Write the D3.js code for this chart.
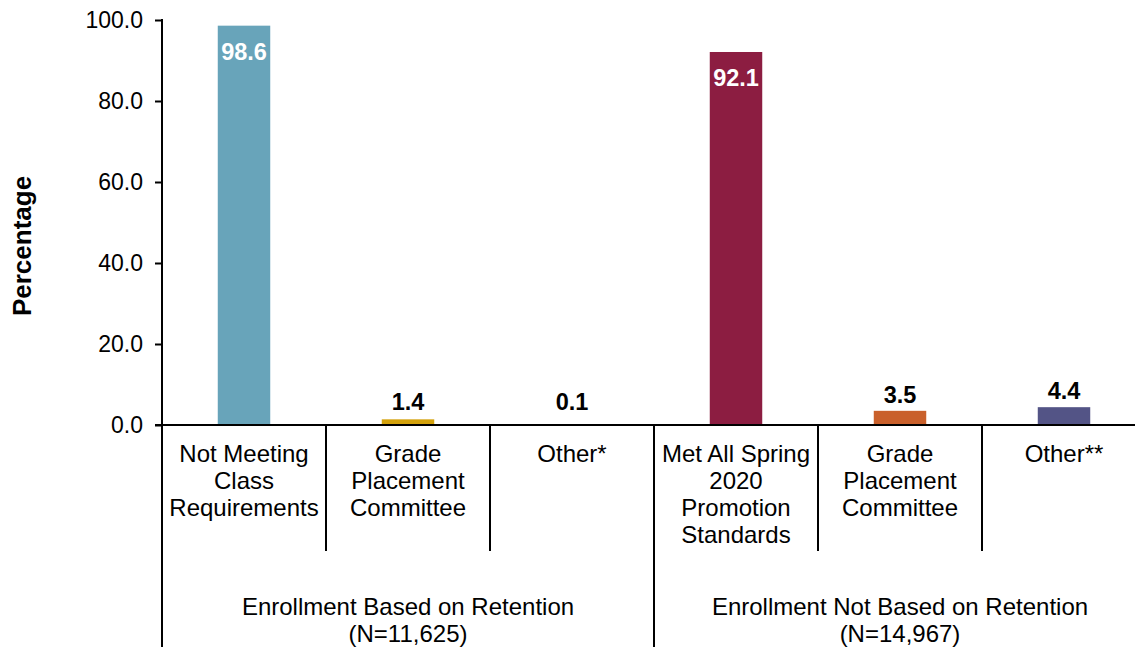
<!DOCTYPE html>
<html>
<head>
<meta charset="utf-8">
<script src="https://cdn.jsdelivr.net/npm/d3@7"></script>
<style>
  body { margin: 0; background: #fff; }
  text { font-family: Arial, "Liberation Sans", sans-serif; fill: #000; }
</style>
</head>
<body>
<svg width="1135" height="647"></svg>
<script>
// chart data
var categories = [
  ['Not Meeting', 'Class', 'Requirements'],
  ['Grade', 'Placement', 'Committee'],
  ['Other*'],
  ['Met All Spring', '2020', 'Promotion', 'Standards'],
  ['Grade', 'Placement', 'Committee'],
  ['Other**']
];
var values = [98.6, 1.4, 0.1, 92.1, 3.5, 4.4];
var barColors = ['#68a4ba', '#d4a20c', '#d4a20c', '#8c1d41', '#c9602b', '#535486'];
var groups = [
  {label: ['Enrollment Based on Retention', '(N=11,625)'], from: 0, to: 2},
  {label: ['Enrollment Not Based on Retention', '(N=14,967)'], from: 3, to: 5}
];
var yTicks = [0, 20, 40, 60, 80, 100];

let svg = d3.select('svg');
let idx = d3.range(values.length);

let xScale = d3.scaleBand().domain(idx).range([162, 1146]).padding(0);
let yScale = d3.scaleLinear().domain([0, 100]).range([425, 20]);
let bw = xScale.bandwidth();
let barW = bw * 0.32;

// bars
svg.selectAll('rect.bar')
  .data(values)
  .enter()
  .append('rect')
  .attr('class', 'bar')
  .attr('x', (d, i) => xScale(i) + (bw - barW) / 2)
  .attr('y', d => yScale(d))
  .attr('width', barW)
  .attr('height', d => yScale(0) - yScale(d))
  .attr('fill', (d, i) => barColors[i]);

// value labels: big ones inside in white, small ones above
svg.selectAll('text.val')
  .data(values)
  .enter()
  .append('text')
  .attr('class', 'val')
  .attr('x', (d, i) => xScale(i) + bw / 2)
  .attr('y', d => d > 50 ? yScale(d) + 34 : Math.min(yScale(d), 418) - 8)
  .attr('text-anchor', 'middle')
  .style('font-size', '23.5px')
  .style('font-weight', 'bold')
  .style('fill', d => d > 50 ? '#fff' : '#000')
  .text(d => d.toFixed(1));

// y axis
let yAxis = d3.axisLeft(yScale).tickValues(yTicks).tickFormat(d3.format('.1f')).tickSize(7).tickPadding(12);
let yG = svg.append('g').attr('transform', 'translate(162,0)').call(yAxis);
yG.select('.domain').remove();
yG.selectAll('.tick line').attr('stroke', '#000').attr('stroke-width', 2);
yG.selectAll('.tick text').style('font-size', '23px').style('font-family', 'Arial, "Liberation Sans", sans-serif');
svg.append('line').attr('x1', 162).attr('x2', 162).attr('y1', yScale(100) - 1).attr('y2', 647)
  .attr('stroke', '#000').attr('stroke-width', 2);

// baseline
svg.append('line').attr('x1', 155).attr('x2', 1146).attr('y1', yScale(0)).attr('y2', yScale(0))
  .attr('stroke', '#000').attr('stroke-width', 2);

// category dividers
let inner = idx.filter(i => i > 0 && !groups.some(g => g.from === i));
svg.selectAll('line.div')
  .data(inner)
  .enter()
  .append('line')
  .attr('x1', i => xScale(i)).attr('x2', i => xScale(i))
  .attr('y1', yScale(0)).attr('y2', 551)
  .attr('stroke', '#000').attr('stroke-width', 2);

// group dividers
svg.selectAll('line.gdiv')
  .data(groups.slice(1))
  .enter()
  .append('line')
  .attr('x1', g => xScale(g.from)).attr('x2', g => xScale(g.from))
  .attr('y1', yScale(0)).attr('y2', 647)
  .attr('stroke', '#000').attr('stroke-width', 2);

// category labels
let catText = svg.selectAll('text.cat')
  .data(categories)
  .enter()
  .append('text')
  .attr('class', 'cat')
  .attr('text-anchor', 'middle')
  .style('font-size', '24px');
catText.selectAll('tspan')
  .data((d, i) => d.map(s => ({s: s, i: i})))
  .enter()
  .append('tspan')
  .attr('x', d => xScale(d.i) + bw / 2)
  .attr('y', (d, j) => 462 + j * 27)
  .text(d => d.s);

// group labels
let gText = svg.selectAll('text.grp')
  .data(groups)
  .enter()
  .append('text')
  .attr('class', 'grp')
  .attr('text-anchor', 'middle')
  .style('font-size', '24px');
gText.selectAll('tspan')
  .data(g => g.label.map(s => ({s: s, g: g})))
  .enter()
  .append('tspan')
  .attr('x', d => (xScale(d.g.from) + xScale(d.g.to) + bw) / 2)
  .attr('y', (d, j) => 615 + j * 27)
  .text(d => d.s);

// y title
svg.append('text')
  .attr('transform', 'translate(31,246) rotate(-90)')
  .attr('text-anchor', 'middle')
  .style('font-size', '26px')
  .style('font-weight', 'bold')
  .text('Percentage');
</script>
</body>
</html>
